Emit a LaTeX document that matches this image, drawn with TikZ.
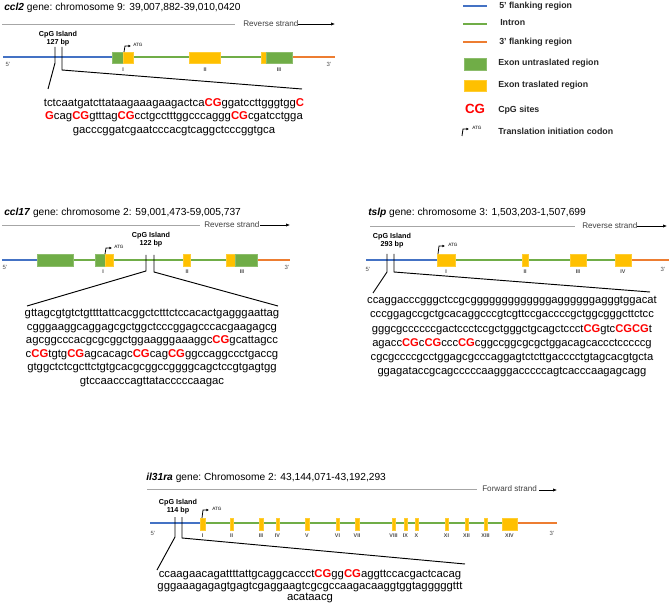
\documentclass[tikz,border=0pt]{standalone}
\usepackage{fontspec}
\setmainfont{Liberation Sans}
\usetikzlibrary{arrows.meta}
\definecolor{cblue}{HTML}{4472C4}
\definecolor{cgreen}{HTML}{70AD47}
\definecolor{corange}{HTML}{ED7D31}
\definecolor{cyel}{HTML}{FFC000}
\newcommand\R[1]{\textcolor{red}{\bfseries #1}}
\begin{document}
\begin{tikzpicture}[x=0.75pt,y=-0.75pt,
 strand/.style={gray!70,line width=0.6pt},
 sarrow/.style={-{Latex[length=3pt,width=2.5pt]},line width=0.5pt},
 gl/.style={line width=1pt},
 exY/.style={fill=cyel,draw=cyel!80!white,line width=0.3pt},
 exG/.style={fill=cgreen,draw=cgreen!80!white,line width=0.3pt},
 title/.style={anchor=west,font=\fontsize{7.65pt}{8pt}\selectfont,inner sep=0},
 st/.style={anchor=west,font=\fontsize{6.1pt}{7pt}\selectfont,text=black!75,inner sep=0},
 seq/.style={align=center,font=\fontsize{8.5pt}{10.2pt}\selectfont,inner sep=0,anchor=north},
 cpg/.style={align=center,font=\fontsize{5.4pt}{6.2pt}\selectfont\bfseries,inner sep=0},
 rn/.style={font=\fontsize{4pt}{4pt}\selectfont\bfseries,inner sep=0,text=black!70},
 pr/.style={font=\fontsize{4.5pt}{5pt}\selectfont,inner sep=0,text=black!70},
 atg/.style={font=\fontsize{3.5pt}{4pt}\selectfont,inner sep=0,anchor=west},
 tick/.style={line width=0.7pt},
 leg/.style={anchor=west,font=\fontsize{6.6pt}{7pt}\selectfont\bfseries,inner sep=0,text=black!85}]
\useasboundingbox (0,0) rectangle (669,610);
% ===== ccl2 =====
\node[title] (t1) at (4,8) {\textbf{\itshape ccl2} gene:\ chromosome\ 9: 39,007,882-39,010,0420};
\draw[strand] (2,24) -- (235,24);
\node[st] (s1) at (243,24) {Reverse strand};
\coordinate (s1a) at (298,24); \coordinate (s1b) at (335,24);
\draw[sarrow] (s1a) -- (s1b);
\draw[gl,cblue] (3,57) -- (112,57);
\draw[gl,cgreen] (112,57) -- (292,57);
\draw[gl,corange] (292,57) -- (335,57);
\path[exG] (112,52) rectangle (123,63);
\path[exY] (123,52) rectangle (133,63);
\path[exY] (189,52) rectangle (220,63);
\path[exY] (261,52) rectangle (266,63);
\path[exG] (266,52) rectangle (292,63);
\node[rn] at (123,70) {I};
\node[rn] at (205,70) {II};
\node[rn] at (279,70) {III};
\node[pr] at (8,64) {5'};
\node[pr] at (329,64) {3'};
\draw[line width=0.6pt,-{Latex[length=2pt,width=2pt]}] (124,52) -- (125,46) -- (131,46);
\node[atg] at (133,45) {ATG};
\node[cpg] (c1) at (58,39) {CpG Island\\127 bp};
\draw[tick] (55,47) -- (55,63) -- (48,89);
\draw[tick] (62,47) -- (62,70) -- (302,89);
\node[seq] (q1) at (174,98) {tctcaatgatcttataagaaagaagactca\R{CG}ggatccttgggtgg\R{C}\\
\R{G}cag\R{CG}gtttag\R{CG}cctgcctttggcccaggg\R{CG}cgatcctgga\\
gacccggatcgaatcccacgtcaggctcccggtgca};
% ===== legend =====
\draw[cblue,line width=0.8pt] (463,6) -- (487,6);
\draw[cgreen,line width=0.8pt] (463,24) -- (487,24);
\draw[corange,line width=0.8pt] (463,42) -- (487,42);
\path[exG] (464,58) rectangle (486,70);
\path[exY] (464,80) rectangle (486,91);
\node[leg] (l1) at (499,6) {5' flanking region};
\node[leg] (l2) at (500,23) {Intron};
\node[leg] (l3) at (499,42) {3' flanking region};
\node[leg] (l4) at (498,63) {Exon untraslated region};
\node[leg] (l5) at (498,85) {Exon traslated region};
\node[font=\fontsize{10pt}{10pt}\selectfont\bfseries,text=red,inner sep=0] (l6) at (475,109) {CG};
\node[leg] (l6t) at (498,110) {CpG sites};
\draw[line width=0.6pt,-{Latex[length=2pt,width=2pt]}] (462,136) -- (463,129) -- (469,129);
\node[atg] at (472,128) {ATG};
\node[leg] (l7) at (498,131) {Translation initiation codon};
% ===== ccl17 =====
\node[title] (t2) at (4,213) {\textbf{\itshape ccl17} gene:\ chromosome\ 2: 59,001,473-59,005,737};
\draw[strand] (2,225) -- (200,225);
\node[st] (s2) at (204,225) {Reverse strand};
\coordinate (s2a) at (260,225); \coordinate (s2b) at (290,225);
\draw[sarrow] (s2a) -- (s2b);
\draw[gl,cblue] (2,260) -- (37,260);
\draw[gl,cgreen] (37,260) -- (258,260);
\draw[gl,corange] (258,260) -- (290,260);
\path[exG] (37,254) rectangle (73,266);
\path[exG] (95,254) rectangle (105,266);
\path[exY] (105,254) rectangle (113,266);
\path[exY] (183,254) rectangle (190,266);
\path[exY] (226,254) rectangle (235,266);
\path[exG] (235,254) rectangle (257,266);
\node[rn] at (103,272) {I};
\node[rn] at (187,272) {II};
\node[rn] at (242,272) {III};
\node[pr] at (5,267) {5'};
\node[pr] at (287,267) {3'};
\draw[line width=0.6pt,-{Latex[length=2pt,width=2pt]}] (105,254) -- (106,248) -- (112,248);
\node[atg] at (114,247) {ATG};
\node[cpg] (c2) at (151,240) {CpG Island\\122 bp};
\draw[tick] (146,255) -- (146,271) -- (27,306);
\draw[tick] (154,255) -- (154,272) -- (278,306);
\node[seq] (q2) at (152,309) {gttagcgtgtctgttttattcacggctctttctccacactgagggaattag\\
cgggaaggcaggagcgctggctcccggagcccacgaagagcg\\
agcggcccacgcgcggctggaagggaaaggc\R{CG}gcattagcc\\
c\R{CG}tgtg\R{CG}agcacagc\R{CG}cag\R{CG}ggccaggccctgaccg\\
gtggctctcgcttctgtgcacgcggccggggcagctccgtgagtgg\\
gtccaacccagttatacccccaagac};
% ===== tslp =====
\node[title] (t3) at (368,213) {\textbf{\itshape tslp} gene:\ chromosome\ 3: 1,503,203-1,507,699};
\draw[strand] (370,226) -- (575,226);
\node[st] (s3) at (582,226) {Reverse strand};
\coordinate (s3a) at (637,226); \coordinate (s3b) at (667,226);
\draw[sarrow] (s3a) -- (s3b);
\draw[gl,cblue] (366,260) -- (437,260);
\draw[gl,cgreen] (437,260) -- (632,260);
\draw[gl,corange] (632,260) -- (669,260);
\path[exY] (437,254) rectangle (455,266);
\path[exY] (522,254) rectangle (528,266);
\path[exY] (570,254) rectangle (586,266);
\path[exY] (615,254) rectangle (631,266);
\node[rn] at (446,272) {I};
\node[rn] at (525,272) {II};
\node[rn] at (578,272) {III};
\node[rn] at (623,272) {IV};
\node[pr] at (368,269) {5'};
\node[pr] at (663,269) {3'};
\draw[line width=0.6pt,-{Latex[length=2pt,width=2pt]}] (438,254) -- (439,246) -- (445,246);
\node[atg] at (448,245) {ATG};
\node[cpg] (c3) at (392,241) {CpG Island\\293 bp};
\draw[tick] (387,254) -- (387,272) -- (373,293);
\draw[tick] (394,254) -- (394,272) -- (650,292);
\node[seq,font=\fontsize{8.4pt}{10.7pt}\selectfont] (q3) at (512,296) {ccaggacccgggctccgcgggggggggggggaggggggagggtggacat\\
cccggagccgctgcacaggcccgtcgttccgaccccgctggcgggcttctcc\\
gggcgccccccgactccctccgctgggctgcagctccct\R{CG}gtc\R{CGCG}t\\
agacc\R{CG}c\R{CG}ccc\R{CG}cggccggcgcgctggacagcaccctcccccg\\
cgcgccccgcctggagcgcccaggagtctcttgacccctgtagcacgtgcta\\
ggagataccgcagcccccaagggacccccagtcacccaagagcagg};
% ===== il31ra =====
\node[title] (t4) at (146,478) {\textbf{\itshape il31ra} gene:\ Chromosome\ 2: 43,144,071-43,192,293};
\draw[strand] (147,489) -- (477,489);
\node[st] (s4) at (482,489) {Forward strand};
\coordinate (s4a) at (539,490); \coordinate (s4b) at (557,490);
\draw[sarrow] (s4a) -- (s4b);
\draw[gl,cblue] (150,523) -- (200,523);
\draw[gl,cgreen] (200,523) -- (517,523);
\draw[gl,corange] (517,523) -- (557,523);
\foreach \a/\b/\l in {200/205/I,230/233/II,259/263/III,276/279/IV,305/309/V,336/339/VI,355/359/VII,392/395/VIII,404/407/IX,415/418/X,445/448/XI,465/468/XII,484/487/XIII,502/517/XIV}{
 \path[exY] (\a,518) rectangle (\b,530);
 \node[rn] at ({(\a+\b)/2},536) {\l};}
\node[pr] at (153,533) {5'};
\node[pr] at (552,533) {3'};
\draw[line width=0.6pt,-{Latex[length=2pt,width=2pt]}] (202,518) -- (203,510) -- (209,510);
\node[atg] at (212,509) {ATG};
\node[cpg] (c4) at (178,507) {CpG Island\\114 bp};
\draw[tick] (175,517) -- (175,537) -- (157,570);
\draw[tick] (182,517) -- (182,538) -- (465,564);
\node[seq,font=\fontsize{8.5pt}{8.9pt}\selectfont] (q4) at (310,569) {ccaagaacagattttattgcaggcaccct\R{CG}gg\R{CG}aggttccacgactcacag\\
gggaaagagagtgagtcgaggaagtcgcgccaagacaaggtggtagggggttt\\
acataacg};
\end{tikzpicture}
\end{document}
